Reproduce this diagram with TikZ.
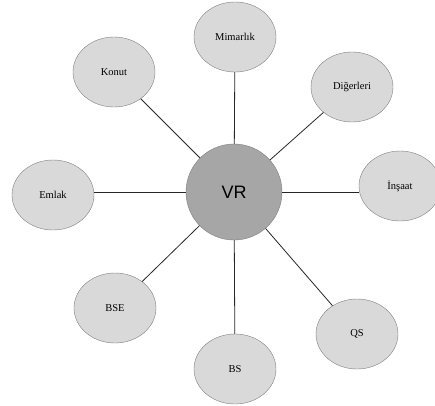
\documentclass[tikz,border=0pt]{standalone}
\usepackage{fontspec}
\setmainfont{Liberation Serif}
\newfontfamily\hubfont{Liberation Sans}
\usetikzlibrary{shapes.geometric}

\definecolor{leafgray}{HTML}{D9D9D9}
\definecolor{hubgray}{HTML}{A6A6A6}
\definecolor{rimgray}{HTML}{7F7F7F}

\begin{document}
\begin{tikzpicture}[
    x=1pt, y=-1pt,
    hub/.style={circle, draw=rimgray, fill=hubgray, minimum size=96pt, inner sep=0pt, font=\hubfont\fontsize{18}{20}\selectfont},
    leaf/.style={ellipse, draw=rimgray, fill=leafgray, minimum width=82pt, minimum height=70pt, inner sep=0pt, font=\fontsize{10.5}{12}\selectfont},
    spoke/.style={draw=black!85, line width=0.8pt}
]
\useasboundingbox (0,0) rectangle (435,405);

% Center
\node[hub] (vr) at (234,192) {VR};

% Satellites
\node[leaf] (mimarlik) at (235,37) {Mimarlık};
\node[leaf] (digerleri) at (352,87) {Diğerleri};
\node[leaf] (insaat) at (400,186) {İnşaat};
\node[leaf] (qs) at (357,334) {QS};
\node[leaf] (bs) at (235,369) {BS};
\node[leaf] (bse) at (115,308) {BSE};
\node[leaf] (emlak) at (53,195) {Emlak};
\node[leaf] (konut) at (114,72) {Konut};

% Spokes
\draw[spoke] (vr) -- (mimarlik);
\draw[spoke] (vr) -- (digerleri);
\draw[spoke] (vr.east) -- (vr.east -| insaat.west);
\draw[spoke] (vr) -- (qs);
\draw[spoke] (vr) -- (bs);
\draw[spoke] (vr) -- (bse);
\draw[spoke] (vr.west) -- (vr.west -| emlak.east);
\draw[spoke] (vr) -- (konut);

\end{tikzpicture}
\end{document}
